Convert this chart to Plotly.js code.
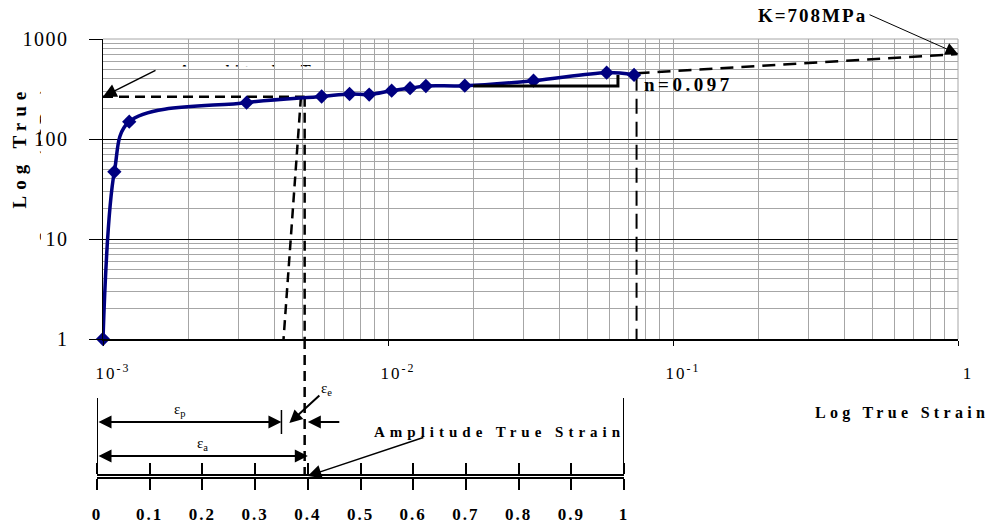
<!DOCTYPE html>
<html>
<head>
<meta charset="utf-8">
<script src="https://cdn.plot.ly/plotly-3.0.1.min.js"></script>
<style>html,body{margin:0;padding:0;background:#fff;}</style>
</head>
<body>
<div id="chart" style="width:995px;height:529px;"></div>
<script>
// ---------------- data ----------------
const strain = [0.001, 0.001096, 0.001236, 0.00319, 0.00585, 0.00733, 0.00859, 0.0103, 0.01195, 0.01358, 0.0186, 0.0324, 0.0585, 0.0730];
const stress = [1, 47, 149, 231, 266, 282, 278, 304, 322, 339, 341, 383, 461, 437];

const fitStrain = [0.0745, 1];
const fitStress = [455, 708];
const K = 708;
const nValue = 0.097;

const amplitudeStrain = 0.0051;
const amplitudeStress = 265;
const slantStrain = [0.00495, 0.0043];
const guideStrain = 0.0745;
const guideStress = 430;
const triangleStrain = [0.0199, 0.0641, 0.0641];
const triangleStress = [339, 339, 437];

const xTickVals = [0.001, 0.01, 0.1, 1];
const xTickText = ['10<sup>-3</sup>', '10<sup>-2</sup>', '10<sup>-1</sup>', '1'];
const yTickVals = [1, 10, 100, 1000];
const yTickText = ['1', '10', '100', '1000'];

const ampTicks = [0, 0.1, 0.2, 0.3, 0.4, 0.5, 0.6, 0.7, 0.8, 0.9, 1];
const ampTickText = ['0', '0.1', '0.2', '0.3', '0.4', '0.5', '0.6', '0.7', '0.8', '0.9', '1'];
const plasticAmp = 0.35;
const totalAmp = 0.4;

// ---------------- helpers ----------------
const W = 995, H = 529;
const px = v => v / W;
const py = v => 1 - v / H;
const L10 = Math.log10;
const SERIF = 'Liberation Serif, Times New Roman, serif';
const sp = (t, s) => '<span style="letter-spacing:' + s + 'px">' + t + '</span>';
const gap = s => '<span style="letter-spacing:' + s + 'px">&nbsp;</span>';
const NAVY = '#000080';
const GRID = '#a6a6a6';
const dashShort = '10px,6px';

const dashed = (x, y, w, dash) => ({
  x: x, y: y, xaxis: 'x', yaxis: 'y', mode: 'lines', hoverinfo: 'skip',
  line: {color: '#000', width: w, dash: dash}
});

const traces = [
  dashed([xTickVals[0], amplitudeStrain], [amplitudeStress, amplitudeStress], 2.5, dashShort),
  dashed([amplitudeStrain, amplitudeStrain], [amplitudeStress, yTickVals[0]], 2.5, dashShort),
  dashed(slantStrain, [amplitudeStress, yTickVals[0]], 2.5, dashShort),
  dashed([guideStrain, guideStrain], [guideStress, yTickVals[0]], 2, '15px,8px'),
  dashed(fitStrain, fitStress, 2.5, '13px,8px'),
  {
    x: strain, y: stress, xaxis: 'x', yaxis: 'y', mode: 'lines+markers', hoverinfo: 'skip', cliponaxis: false,
    line: {color: NAVY, width: 3.5, shape: 'spline', smoothing: 1},
    marker: {symbol: 'diamond', size: 11, color: NAVY}
  },
  {
    x: triangleStrain, y: triangleStress, xaxis: 'x', yaxis: 'y', mode: 'lines', hoverinfo: 'skip',
    line: {color: '#000', width: 3}
  }
];

const bold = (size) => ({family: SERIF, size: size, color: '#000', weight: 'bold'});
const plain = (size) => ({family: SERIF, size: size, color: '#000'});
const txt = (o) => Object.assign({showarrow: false, xref: 'paper', yref: 'paper', xanchor: 'center', yanchor: 'middle'}, o);
const arr = (o) => Object.assign({text: '', showarrow: true, arrowhead: 2, arrowcolor: '#000'}, o);

const annotations = [
  txt({x: px(18.5), y: py(147), text: sp('Log True', 6), textangle: -90, font: bold(19)}),
  txt({x: px(812), y: py(16), text: sp('K=' + K + 'MPa', 2), font: bold(19)}),
  arr({xref: 'x', yref: 'y', x: L10(fitStrain[1]), y: L10(fitStress[1]), ax: -90, ay: -40, arrowwidth: 1, arrowsize: 2.5}),
  txt({x: px(642), xanchor: 'left', y: py(85), text: sp('n=' + nValue, 3.5), font: bold(19)}),
  arr({xref: 'x', yref: 'y', x: L10(xTickVals[0]), y: L10(amplitudeStress), ax: 54, ay: -27, arrowwidth: 1.5, arrowsize: 1.8}),
  txt({x: px(902), y: py(413), text: sp('Log True Strain', 4.3), font: bold(16)}),
  txt({x: px(499), y: py(432), text: sp('Amplitude True Strain', 5), font: bold(15)}),
  arr({xref: 'x2', yref: 'paper', x: totalAmp, y: py(476), ax: 117, ay: -39, arrowwidth: 1.5, arrowsize: 1.8}),
  arr({xref: 'x2', axref: 'x2', yref: 'paper', ayref: 'pixel', x: totalAmp, ax: ampTicks[0], y: py(456), ay: 0,
       arrowside: 'end+start', startarrowhead: 2, arrowwidth: 2, arrowsize: 1.3, startarrowsize: 1.3}),
  arr({xref: 'x2', axref: 'x2', yref: 'paper', ayref: 'pixel', x: plasticAmp, ax: ampTicks[0], y: py(422), ay: 0,
       arrowside: 'end+start', startarrowhead: 2, arrowwidth: 2, arrowsize: 1.3, startarrowsize: 1.3}),
  arr({xref: 'x2', yref: 'paper', x: totalAmp, y: py(422), ax: 33, ay: 0, arrowwidth: 2, arrowsize: 1.3}),
  arr({xref: 'x2', yref: 'paper', x: plasticAmp + 0.3 * (totalAmp - plasticAmp), y: py(423), ax: 37, ay: -34,
       arrowwidth: 2, arrowsize: 1.3, text: 'ε<sub>e</sub>', font: plain(15)}),
  txt({xref: 'x2', x: plasticAmp * 0.45, y: py(410), text: 'ε<sub>p</sub>', font: plain(15)}),
  txt({xref: 'x2', x: totalAmp / 2, y: py(444), text: 'ε<sub>a</sub>', font: plain(15)})
];

const noLine = {width: 0};
const shapes = [
  // second line of the y title, mostly hidden behind the tick-label area as in the reference
  {type: 'rect', xref: 'paper', yref: 'paper', x0: px(30), x1: px(60), y0: py(245), y1: py(80), layer: 'below',
   line: noLine, fillcolor: 'rgba(0,0,0,0)',
   label: {text: sp('Stress (MPa)', 5), textangle: -90, textposition: 'middle center', font: bold(18)}},
  {type: 'rect', xref: 'paper', yref: 'paper', x0: px(41), x1: px(100), y0: py(252), y1: py(72), layer: 'below',
   line: noLine, fillcolor: '#fff'},
  // "Amplitude True Stress" text, partly hidden as in the reference
  {type: 'rect', xref: 'paper', yref: 'paper', x0: px(160), x1: px(447), y0: py(81), y1: py(55), layer: 'below',
   line: noLine, fillcolor: 'rgba(0,0,0,0)',
   label: {text: sp('Amplitude True Stress', 5), textposition: 'middle center', font: bold(15)}},
  {type: 'rect', xref: 'paper', yref: 'paper', x0: px(160), x1: px(350), y0: py(83), y1: py(66.5), layer: 'below',
   line: noLine, fillcolor: '#fff'},
  {type: 'rect', xref: 'paper', yref: 'paper', x0: px(350), x1: px(452), y0: py(83), y1: py(52), layer: 'below',
   line: noLine, fillcolor: '#fff'},
  // grey top / right border of the plot area
  {type: 'line', xref: 'x domain', yref: 'y domain', x0: 0, x1: 1, y0: 1, y1: 1, layer: 'above', line: {color: GRID, width: 1}},
  {type: 'line', xref: 'x domain', yref: 'y domain', x0: 1, x1: 1, y0: 0, y1: 1, layer: 'above', line: {color: GRID, width: 1}},
  // amplitude dashed line continuing down to the amplitude scale
  {type: 'line', xref: 'x', yref: 'paper', x0: amplitudeStrain, x1: amplitudeStrain, y0: py(339), y1: py(476),
   line: {color: '#000', width: 2.5, dash: dashShort}},
  // end bars of the amplitude scale
  {type: 'line', xref: 'x2', yref: 'paper', x0: ampTicks[0], x1: ampTicks[0], y0: py(398), y1: py(476), line: {color: '#000', width: 2}},
  {type: 'line', xref: 'x2', yref: 'paper', x0: ampTicks[ampTicks.length - 1], x1: ampTicks[ampTicks.length - 1], y0: py(398), y1: py(476), line: {color: '#000', width: 2}},
  // plastic part bar
  {type: 'line', xref: 'x2', yref: 'paper', x0: plasticAmp, x1: plasticAmp, y0: py(410), y1: py(434), line: {color: '#000', width: 1.5}}
];

const layout = {
  width: W, height: H,
  margin: {l: 0, r: 0, t: 0, b: 0, pad: 0},
  paper_bgcolor: '#fff', plot_bgcolor: '#fff',
  showlegend: false,
  font: {family: SERIF, color: '#000'},
  xaxis: {
    type: 'log', domain: [px(103), px(958)], range: [L10(xTickVals[0]), L10(xTickVals[3])], anchor: 'y',
    tickmode: 'array', tickvals: xTickVals, ticktext: xTickText.map(t => sp(t, 2)),
    tickfont: plain(17),
    ticks: 'outside', ticklen: 5, tickwidth: 1, tickcolor: '#000',
    ticklabelstandoff: 13, ticklabelshift: 10,
    showline: true, linecolor: '#000', linewidth: 1.5,
    showgrid: true, gridcolor: GRID, gridwidth: 1,
    minor: {dtick: 'D1', showgrid: true, gridcolor: GRID, gridwidth: 1, ticks: ''},
    zeroline: false, fixedrange: true
  },
  yaxis: {
    type: 'log', domain: [py(339), py(39)], range: [L10(yTickVals[0]), L10(yTickVals[3])], anchor: 'x',
    tickmode: 'array', tickvals: yTickVals, ticktext: yTickText.map(t => sp(t, 1.5) + gap(11)),
    tickfont: plain(20),
    ticks: 'outside', ticklen: 13, tickwidth: 1, tickcolor: '#000',
    showline: true, linecolor: '#000', linewidth: 1.5,
    showgrid: true, gridcolor: '#000', gridwidth: 1,
    minor: {dtick: 'D1', showgrid: true, gridcolor: GRID, gridwidth: 1, ticks: ''},
    zeroline: false, fixedrange: true
  },
  xaxis2: {
    domain: [px(97), px(624)], range: [ampTicks[0], ampTicks[ampTicks.length - 1]], anchor: 'y2',
    tickmode: 'array', tickvals: ampTicks, ticktext: ampTickText.map(t => sp(t, 2)),
    tickfont: bold(17),
    ticks: 'outside', ticklen: 11, tickwidth: 2, tickcolor: '#000',
    ticklabelstandoff: 10,
    showline: true, linecolor: '#000', linewidth: 2, mirror: 'ticks',
    showgrid: false, zeroline: false, fixedrange: true
  },
  yaxis2: {
    domain: [py(476.5), py(475.5)], range: [0, 1], anchor: 'x2',
    showticklabels: false, ticks: '', showgrid: false, zeroline: false, showline: false, fixedrange: true
  },
  annotations: annotations,
  shapes: shapes
};

Plotly.newPlot('chart', traces, layout, {staticPlot: true, displayModeBar: false});
</script>
</body>
</html>
